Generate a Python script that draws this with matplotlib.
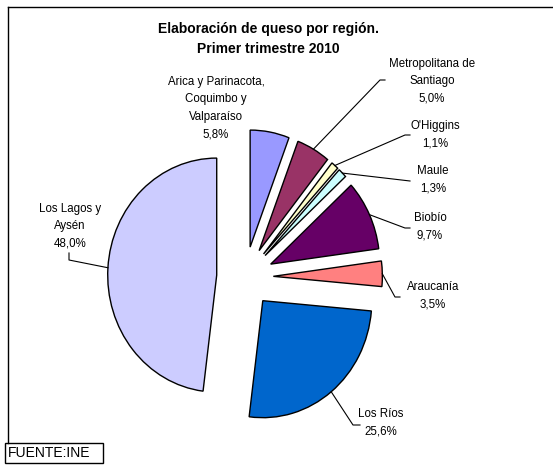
import numpy as np
import matplotlib
matplotlib.use("Agg")
import matplotlib.pyplot as plt
from matplotlib.lines import Line2D
from matplotlib.patches import Rectangle

plt.rcParams['font.family'] = ['Liberation Sans', 'DejaVu Sans']

regions = ["Arica y Parinacota,\nCoquimbo y\nValparaíso", "Metropolitana de\nSantiago",
           "O'Higgins", "Maule", "Biobío", "Araucanía", "Los Ríos", "Los Lagos y\nAysén"]
shares = [5.8, 5.0, 1.1, 1.3, 9.7, 3.5, 25.6, 48.0]
colors = ["#9999FF", "#993366", "#FFFFCC", "#CCFFFF", "#660066", "#FF8080", "#0066CC", "#CCCCFF"]

# label text centres and leader elbows, in pixels (from top-left)
label_pos = [(216, 108), (432, 81), (435, 135), (433, 180), (430, 227), (433, 296), (381, 423), (70, 226)]
elbows = [[], [(380, 80), (385, 80)], [(405, 135), (410, 135)], [(410, 181)],
          [(405, 228), (410, 228)], [(395, 297), (400, 297)], [(353, 425), (360, 425)],
          [(69, 260), (69, 253)]]

W, H = 553, 466
cx, cy = 245, 277
sx, sy = 109, 117
explode = 0.26

def to_data(px, py):
    return (px - cx) / sx, (cy - py) / sy

fig = plt.figure(figsize=(W / 100, H / 100), dpi=100)
ax = fig.add_axes([0, 0, 1, 1])

wedges, _ = ax.pie(shares, colors=colors, startangle=90, counterclock=False,
                   explode=[explode] * len(shares), radius=1,
                   wedgeprops=dict(edgecolor='black', linewidth=1.0))
ax.set_aspect('auto')
ax.set_xlim(-cx / sx, (W - cx) / sx)
ax.set_ylim(-(H - cy) / sy, cy / sy)
ax.axis('off')

for w, name, v, (lx, ly), elb in zip(wedges, regions, shares, label_pos, elbows):
    txt = name + "\n" + ("%.1f%%" % v).replace('.', ',')
    x, y = to_data(lx, ly)
    ax.text(x, y, txt, ha='center', va='center', fontsize=8.3, linespacing=1.6)
    if elb:
        th = np.deg2rad((w.theta1 + w.theta2) / 2)
        r = 1 + explode
        pts = [(r * np.cos(th), r * np.sin(th))] + [to_data(*p) for p in elb]
        xs, ys = zip(*pts)
        ax.add_line(Line2D(xs, ys, color='black', lw=0.8))

fig.text(268 / W, 1 - 39 / H, "Elaboración de queso por región.\nPrimer trimestre 2010",
         ha='center', va='center', fontsize=10, fontweight='bold', linespacing=1.6)

# chart frame
fig.add_artist(Line2D([8 / W, 8 / W], [1 - 443 / H, 1 - 7 / H], color='black', lw=1))
fig.add_artist(Line2D([8 / W, 1], [1 - 7 / H, 1 - 7 / H], color='black', lw=1))
fig.add_artist(Rectangle((5 / W, 1 - 463 / H), 98 / W, 20 / H, facecolor='white',
                         edgecolor='black', lw=1))
fig.text(8 / W, 1 - 453 / H, "FUENTE:INE", ha='left', va='center', fontsize=10)

fig.savefig("out.png", dpi=100)
